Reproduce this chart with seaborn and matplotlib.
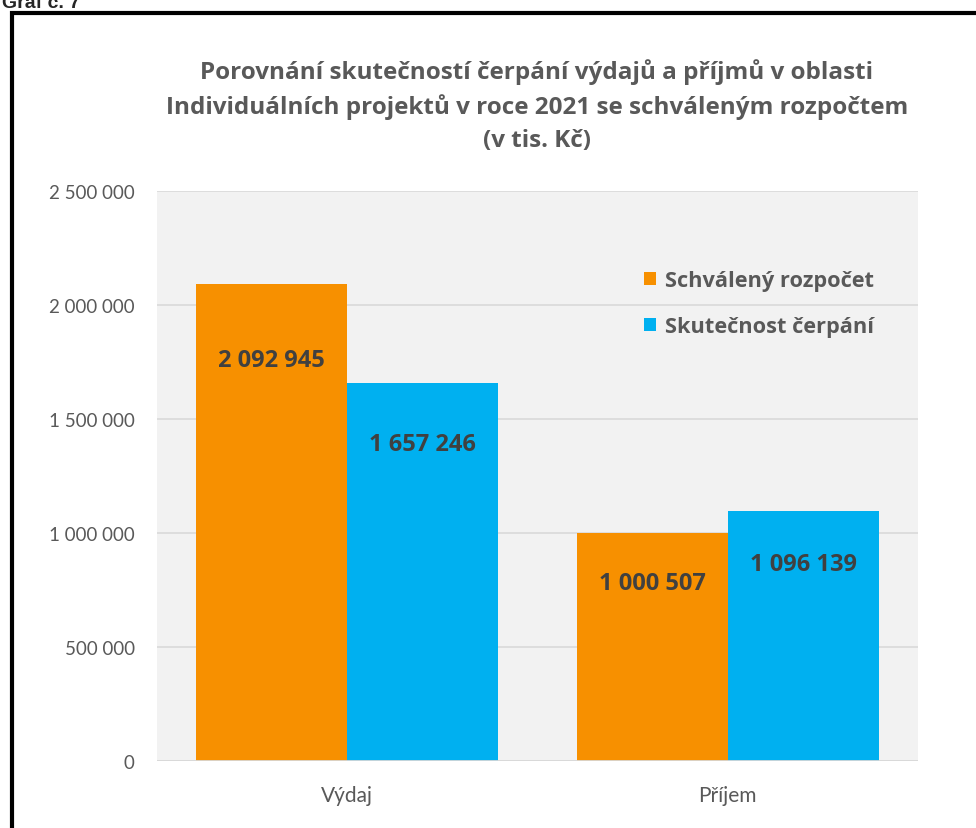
import pandas as pd
import matplotlib.pyplot as plt
import seaborn as sns
from matplotlib.patches import Rectangle

# data
categories = ["Výdaj", "Příjem"]
series = ["Schválený rozpočet", "Skutečnost čerpání"]
budget = [2092945, 1000507]
actual = [1657246, 1096139]
yticks = [0, 500000, 1000000, 1500000, 2000000, 2500000]

df = pd.DataFrame({
    "kategorie": categories * 2,
    "serie": [series[0]] * 2 + [series[1]] * 2,
    "hodnota": budget + actual,
})

sns.set_theme(style="white")
plt.rcParams['font.family'] = ['Open Sans', 'DejaVu Sans']

fig = plt.figure(figsize=(9.76, 8.29), dpi=100)
ax = fig.add_axes([157 / 976, 1 - 762 / 829, 761 / 976, 570 / 829])

palette = {series[0]: "#F79000", series[1]: "#00B0F0"}
sns.barplot(data=df, x="kategorie", y="hodnota", hue="serie", palette=palette,
            width=0.795, saturation=1, linewidth=0, ax=ax, zorder=3)

ax.set_facecolor("#F2F2F2")
ax.set_ylim(0, 2500000)
ax.set_xlim(-0.5, 1.5)
ax.set_yticks(yticks)
ax.set_yticklabels([f"{v:,}".replace(",", " ") for v in yticks])
ax.yaxis.grid(True, color="#D9D9D9", linewidth=1.2, zorder=0)
ax.set_axisbelow(True)
for s in ax.spines.values():
    s.set_visible(False)
ax.axhline(0, color="#D9D9D9", linewidth=2, zorder=4)
ax.tick_params(axis="y", length=0, pad=16, labelsize=13.5, labelcolor="#595959")
ax.tick_params(axis="x", length=0, pad=17, labelsize=15, labelcolor="#595959")
for t in ax.get_yticklabels() + ax.get_xticklabels():
    t.set_fontfamily(["Lato", "DejaVu Sans"])
ax.set_xlabel("")
ax.set_ylabel("")

# data labels inside bars
offsets = [[-76, -50], [-61, -53]]
for i, cont in enumerate(ax.containers):
    for j, bar in enumerate(cont):
        h = bar.get_height()
        ax.annotate(f"{int(h):,}".replace(",", " "),
                    (bar.get_x() + bar.get_width() / 2, h),
                    xytext=(0, offsets[i][j] * 0.72), textcoords="offset points",
                    ha="center", va="center", fontsize=17, fontweight="bold",
                    color="#404040", zorder=5)

leg = ax.legend(loc="upper left", bbox_to_anchor=(0.614, 0.896), frameon=False,
                fontsize=15.7, handlelength=0.55, handleheight=0.55,
                handletextpad=0.4, labelspacing=1.17)
for t in leg.get_texts():
    t.set_color("#595959")
    t.set_fontweight("bold")

fig.text(537 / 976, 1 - 106 / 829,
         "Porovnání skutečností čerpání výdajů a příjmů v oblasti\n"
         "Individuálních projektů v roce 2021 se schváleným rozpočtem\n(v tis. Kč)",
         ha="center", va="center", fontsize=17.5, fontweight="bold",
         color="#595959", linespacing=1.48)

# frame and cropped caption
fig.patches.append(Rectangle((12 / 976, -0.05), 1.0, 1 - 14 / 829 + 0.05,
                             transform=fig.transFigure, fill=False,
                             edgecolor="black", linewidth=3, clip_on=False))
fig.text(2 / 976, 1 - 8 / 829, "Graf č. 7", ha="left", va="baseline",
         fontsize=14, fontweight="bold", family=["Liberation Sans", "DejaVu Sans"])

fig.savefig("out.png", dpi=100)
